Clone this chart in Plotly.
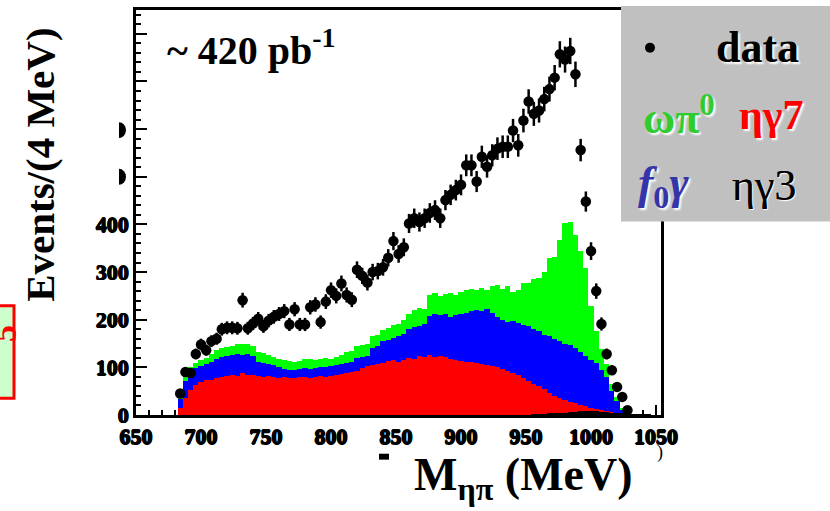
import numpy as np
import plotly.graph_objects as go

# ---- data: events per 4 MeV bin of M(eta pi) ----
data_mass = np.arange(684, 1029, 4)
data_events = [
    45, 90, 88, 128, 148, 136, 155, 160, 180, 183,
    183, 182, 241, 182, 192, 202, 186, 198, 206, 212,
    218, 190, 222, 190, 190, 226, 232, 195, 238, 262,
    250, 276, 252, 242, 305, 292, 278, 300, 302, 310,
    330, 365, 338, 352, 402, 413, 405, 413, 424, 430,
    413, 451, 462, 472, 483, 524, 524, 490, 542, 521,
    545, 559, 563, 563, 597, 566, 618, 658, 632, 639,
    663, 684, 708, 757, 746, 764, 715, 556, 448, 344,
    260, 191, 128, 94, 59, 38, 10,
]

# ---- simulated stack (cumulative levels, same binning) ----
stack_mass = np.arange(684, 1049, 4)
# omega pi0 + f0 gamma + eta gamma7 + eta gamma3
level_omega_pi0 = [
    35, 82, 100, 110, 115, 120, 128, 136, 140, 142,
    145, 148, 150, 148, 145, 132, 130, 125, 122, 118,
    115, 113, 112, 114, 118, 117, 116, 118, 120, 118,
    122, 126, 132, 134, 145, 146, 150, 165, 168, 178,
    182, 188, 192, 200, 212, 220, 224, 222, 252, 256,
    250, 254, 256, 252, 258, 262, 265, 262, 266, 262,
    270, 272, 265, 270, 258, 262, 276, 278, 285, 288,
    300, 330, 332, 368, 404, 406, 378, 344, 309, 228,
    177, 139, 108, 66, 38, 14, 4, 2, 2, 2, 1, 0,
]
# f0 gamma + eta gamma7 + eta gamma3
level_f0_gamma = [
    33, 72, 90, 98, 102, 106, 112, 118, 122, 124,
    126, 128, 126, 128, 124, 112, 110, 106, 104, 100,
    97, 94, 95, 96, 98, 97, 98, 100, 100, 102,
    104, 106, 110, 112, 120, 122, 124, 140, 144, 156,
    158, 162, 166, 170, 180, 184, 186, 190, 208, 212,
    210, 212, 206, 210, 212, 215, 218, 220, 218, 222,
    215, 205, 200, 195, 198, 194, 188, 186, 180, 176,
    168, 165, 160, 156, 150, 146, 140, 132, 124, 115,
    110, 95, 80, 50, 30, 10, 4, 2, 2, 2, 1, 0,
]
# eta gamma7 + eta gamma3
level_eta_gamma7 = [
    14, 35, 52, 62, 69, 73, 74, 78, 80, 82,
    83, 82, 88, 85, 84, 82, 80, 82, 80, 78,
    80, 78, 78, 79, 80, 78, 80, 81, 80, 82,
    83, 86, 88, 90, 92, 98, 102, 105, 108, 110,
    114, 115, 112, 116, 120, 118, 124, 122, 125, 121,
    124, 122, 118, 116, 114, 112, 112, 110, 106, 104,
    102, 100, 96, 93, 88, 84, 78, 72, 66, 60,
    54, 46, 40, 36, 32, 28, 25, 22, 18, 14,
    12, 10, 8, 6, 4, 3, 3, 2, 2, 2, 1, 0,
]
# eta gamma3
level_eta_gamma3 = [
    0, 0, 0, 0, 0, 0, 0, 0, 0, 0,
    0, 0, 0, 0, 0, 0, 0, 0, 0, 0,
    0, 0, 0, 0, 0, 0, 0, 0, 0, 0,
    0, 0, 0, 0, 0, 0, 0, 0, 0, 0,
    0, 0, 0, 0, 0, 0, 0, 0, 0, 0,
    0, 0, 0, 0, 0, 0, 0, 0, 0, 0,
    0, 0, 0, 0, 0, 0, 0, 0, 1, 2,
    2, 3, 3, 4, 5, 6, 7, 8, 8, 8,
    8, 7, 6, 5, 4, 3, 3, 2, 2, 2, 1, 0,
]

x_ticks = [650, 700, 750, 800, 850, 900, 950, 1000, 1050]
y_ticks = [0, 100, 200, 300, 400, 500, 600, 700, 800]
y_ticklabels = ["0", "100", "200", "300", "400", "", "", "", ""]

# plot-area geometry in pixels
L, R, T, B = 136, 661, 7, 415
W, H = 830, 511


def px(x):
    return (x - L) / (R - L)


def py(y):
    return (B - y) / (B - T)


SERIF = "Liberation Serif"
# faint outline that thickens the bold serif glyphs
HEAVY = ("0.7px 0px 0px black, -0.7px 0px 0px black, "
         "0px 0.7px 0px black, 0px -0.7px 0px black")

fig = go.Figure()

for level, colour in [
    (level_omega_pi0, "#00ff00"),
    (level_f0_gamma, "#0000ff"),
    (level_eta_gamma7, "#ff0000"),
    (level_eta_gamma3, "#000000"),
]:
    fig.add_trace(go.Bar(
        x=stack_mass, y=level, width=4,
        marker=dict(color=colour, line=dict(width=0)),
        showlegend=False, hoverinfo="skip",
    ))

fig.add_trace(go.Scatter(
    x=data_mass, y=data_events, mode="markers",
    marker=dict(color="black", size=10.5, symbol="circle"),
    error_y=dict(type="data", array=np.sqrt(data_events), visible=True,
                 color="black", thickness=2.5, width=0),
    showlegend=False, hoverinfo="skip",
))

axis_common = dict(
    showline=True, linecolor="black", linewidth=2.5, mirror=True,
    ticks="inside", tickcolor="black", tickwidth=2,
    showgrid=False, zeroline=False,
    tickfont=dict(family=SERIF, size=22, color="black", weight="bold",
                  shadow=HEAVY),
)

fig.update_layout(
    width=W, height=H,
    margin=dict(l=L, r=W - R, t=T, b=H - B),
    paper_bgcolor="white", plot_bgcolor="white",
    barmode="overlay", bargap=0,
    xaxis=dict(range=[650, 1053.8], tickvals=x_ticks, ticklen=10,
               minor=dict(dtick=10, ticklen=5, tickwidth=2, ticks="inside",
                          tickcolor="black"),
               layer="below traces", **axis_common),
    yaxis=dict(range=[0, 850], tickvals=y_ticks, ticktext=y_ticklabels,
               ticklen=11, minor=dict(dtick=20, ticklen=5, tickwidth=2,
                                      ticks="inside", tickcolor="black"),
               **axis_common),
)

shapes = []
# legend panel
shapes.append(dict(type="rect", xref="paper", yref="paper",
                   x0=px(621), x1=px(840), y0=py(220), y1=py(3),
                   fillcolor="#c0c0c0", line=dict(width=0), layer="above"))
# bullet for data
shapes.append(dict(type="circle", xref="paper", yref="paper",
                   x0=px(645), x1=px(655), y0=py(50), y1=py(40),
                   fillcolor="black", line=dict(width=0), layer="above"))
# boxed label at the left edge
shapes.append(dict(type="rect", xref="paper", yref="paper",
                   x0=px(-10), x1=px(14), y0=py(398), y1=py(305),
                   fillcolor="#ccffcc", line=dict(color="red", width=3)))
# partial glyphs near the axes
for yc in (128, 175):
    shapes.append(dict(type="circle", xref="paper", yref="paper",
                       x0=px(112), x1=px(126), y0=py(yc + 8), y1=py(yc - 8),
                       fillcolor="black", line=dict(width=0)))
    shapes.append(dict(type="rect", xref="paper", yref="paper",
                       x0=px(100), x1=px(119), y0=py(yc + 12), y1=py(yc - 12),
                       fillcolor="white", line=dict(width=0)))
shapes.append(dict(type="rect", xref="paper", yref="paper",
                   x0=px(379), x1=px(389), y0=py(460), y1=py(454),
                   fillcolor="black", line=dict(width=0)))
fig.update_layout(shapes=shapes)

ann = []


def text(x, y, s, size, color="black", xanchor="center", angle=0,
         shadow=None, family=SERIF):
    f = dict(family=family, size=size, color=color)
    if shadow:
        f["shadow"] = shadow
    ann.append(dict(x=px(x), y=py(y), xref="paper", yref="paper", text=s,
                    showarrow=False, xanchor=xanchor, yanchor="middle",
                    textangle=angle, font=f))


LEG_SHADOW = "2px 2px 2px white"
text(757, 45, "<b>data</b>", 44, shadow=LEG_SHADOW)
text(679, 113, "<b>ωπ<sup>0</sup></b>", 44, color="#2fcc2f", shadow=LEG_SHADOW)
text(771, 113, "<b>ηγ7</b>", 42, color="#ff0000", shadow=LEG_SHADOW)
text(663, 184, "<b><i>f</i><sub>0</sub><i>γ</i></b>", 46, color="#3535a8",
     shadow=LEG_SHADOW)
text(764, 184, "ηγ3", 44, shadow="1px 1px 1px white, 0px 0px 0.6px black")

text(165, 45, "<b>~ 420 pb<sup>-1</sup></b>", 40, xanchor="left")
text(40, 163, "<b>Events/(4 MeV)</b>", 41, angle=-90)
text(523, 478, "<b>M<sub>ηπ</sub> (MeV)</b>", 46)
ann.append(dict(x=px(-16), y=py(333), xref="paper", yref="paper",
                text="<b>5</b>", showarrow=False, xanchor="left",
                yanchor="middle", textangle=-90,
                font=dict(family=SERIF, size=34, color="red")))
text(660, 453, ")", 18)

fig.update_layout(annotations=ann)

fig.write_html("out.html")
